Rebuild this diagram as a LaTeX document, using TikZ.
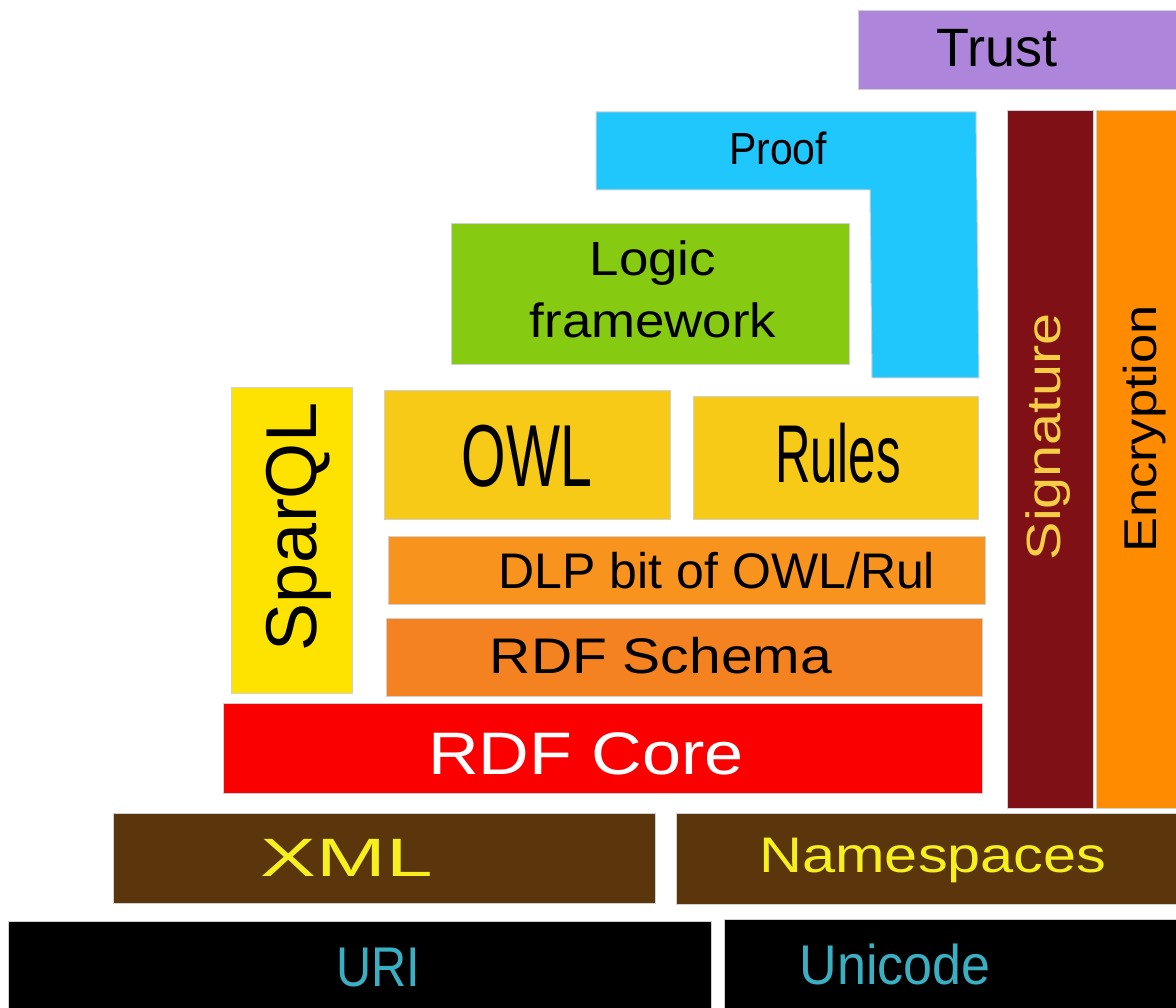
\documentclass[tikz,border=0pt]{standalone}
\usepackage{fontspec}
\setmainfont{Liberation Sans}
\usepackage{graphicx}
\definecolor{ctrust}{HTML}{AD86DC}
\definecolor{cproof}{HTML}{1FC7FD}
\definecolor{clogic}{HTML}{86CB12}
\definecolor{csparql}{HTML}{FFE300}
\definecolor{cowl}{HTML}{F6CA17}
\definecolor{cdlp}{HTML}{F8931D}
\definecolor{cschema}{HTML}{F48220}
\definecolor{ccore}{HTML}{FA0000}
\definecolor{csig}{HTML}{7F1015}
\definecolor{cenc}{HTML}{FF8C00}
\definecolor{cxml}{HTML}{5B350C}
\definecolor{cxmltext}{HTML}{F7F01E}
\definecolor{csigtext}{HTML}{F5CE45}
\definecolor{curitext}{HTML}{3AAFC2}
\newcommand{\lbl}[3]{\scalebox{#2}[1]{\fontsize{#1}{#1}\selectfont #3}}
\begin{document}
\begin{tikzpicture}[x=1pt,y=-1pt,
  layer/.style={draw=black!18, line width=1pt, rectangle, inner sep=0pt},
  txt/.style={inner sep=0pt, anchor=base}]
\useasboundingbox (0,0) rectangle (1176,1008);
% boxes
\node[layer, fill=ctrust, minimum width=330pt, minimum height=79pt] (trust) at (1023,50.5) {};
\fill[cproof, draw=black!18, line width=1pt] (596,112) -- (976,112) -- (979,378) -- (872,378) -- (870,190) -- (596,190) -- cycle;
\coordinate (proof) at (778,150);
\node[layer, fill=clogic, minimum width=398pt, minimum height=141pt] (logic) at (650,294.5) {};
\node[layer, fill=csparql, minimum width=121pt, minimum height=305pt] (sparql) at (291.5,540.5) {};
\node[layer, fill=cowl, minimum width=286pt, minimum height=128pt] (owl) at (527,455) {};
\node[layer, fill=cowl, minimum width=285pt, minimum height=122pt] (rules) at (835.5,458) {};
\node[layer, fill=cdlp, minimum width=597pt, minimum height=68pt] (dlp) at (686.5,570) {};
\node[layer, fill=cschema, minimum width=596pt, minimum height=78pt] (schema) at (684,657) {};
\node[layer, fill=ccore, minimum width=759pt, minimum height=90pt] (core) at (602.5,748) {};
\node[layer, fill=csig, minimum width=86pt, minimum height=697pt] (sig) at (1050,459.5) {};
\node[layer, fill=cenc, minimum width=90pt, minimum height=697pt] (enc) at (1141,459.5) {};
\node[layer, fill=cxml, minimum width=542pt, minimum height=90pt] (xml) at (384,858) {};
\node[layer, fill=cxml, minimum width=510pt, minimum height=91pt] (ns) at (931,858.5) {};
\node[layer, fill=black, minimum width=703pt, minimum height=95pt] (uri) at (359.5,968.5) {};
\node[layer, fill=black, minimum width=460pt, minimum height=97pt] (uni) at (954,967.5) {};
% labels
\node[txt] at (997,67) {\lbl{54}{1.0}{Trust}};
\node[txt] at (778,165) {\lbl{45}{0.91}{Proof}};
\node[txt, align=center] at (653,276) {\lbl{48}{1.1}{Logic}};
\node[txt, align=center] at (653,338) {\lbl{48}{1.1}{framework}};
\node[txt] at (527,486) {\lbl{88}{0.65}{OWL}};
\node[txt] at (838,482) {\lbl{82}{0.6}{Rules}};
\node[txt] at (717,588) {\lbl{50}{1.0}{DLP bit of OWL/Rul}};
\node[txt] at (661,673) {\lbl{50}{1.14}{RDF Schema}};
\node[txt, text=white] at (586,774) {\lbl{60}{1.17}{RDF Core}};
\node[txt, rotate=90] at (316,527) {\lbl{72}{1.0}{SparQL}};
\node[txt, rotate=90, text=csigtext] at (1060,437) {\lbl{48}{1.2}{Signature}};
\node[txt, rotate=90] at (1156,429) {\lbl{46}{1.14}{Encryption}};
\node[txt, text=cxmltext] at (347,876) {\lbl{54}{1.55}{XML}};
\node[txt, text=cxmltext] at (933,872) {\lbl{50}{1.19}{Namespaces}};
\node[txt, text=curitext] at (378,986) {\lbl{56}{0.87}{URI}};
\node[txt, text=curitext] at (895,984) {\lbl{56}{0.93}{Unicode}};
\end{tikzpicture}
\end{document}
